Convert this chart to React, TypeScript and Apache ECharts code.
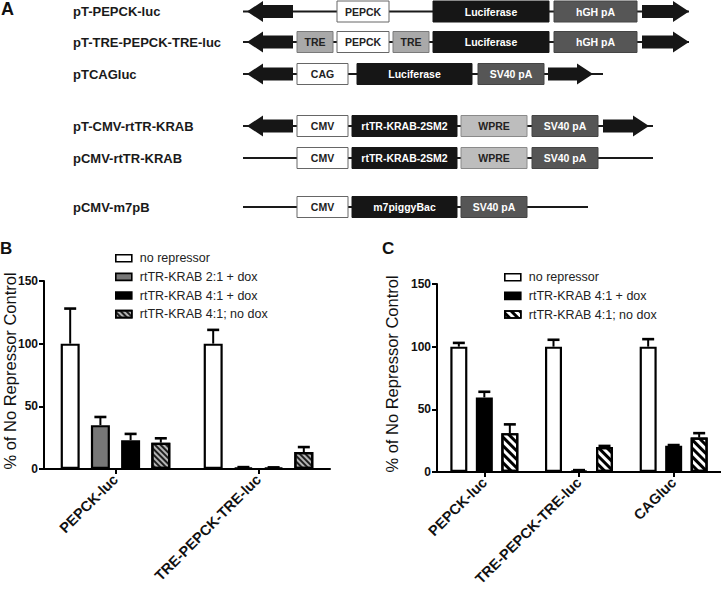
import React, { useEffect, useRef } from "react";
import * as echarts from "echarts";

const FONT = '"Liberation Sans", Arial, Helvetica, sans-serif';

// ---------- Panel B data ----------
const catsB = ["PEPCK-luc", "TRE-PEPCK-TRE-luc"];
const namesB = ["no repressor", "rtTR-KRAB 2:1 + dox", "rtTR-KRAB 4:1 + dox", "rtTR-KRAB 4:1; no dox"];
const noRepB = [100, 100];
const noRepBErr = [28, 11];
const krab21DoxB = [35, 1.2];
const krab21DoxBErr = [6.5, 0.3];
const krab41DoxB = [23, 1.0];
const krab41DoxBErr = [5, 0.3];
const krab41NoDoxB = [21, 13.5];
const krab41NoDoxBErr = [3.5, 4];

// ---------- Panel C data ----------
const catsC = ["PEPCK-luc", "TRE-PEPCK-TRE-luc", "CAGluc"];
const namesC = ["no repressor", "rtTR-KRAB 4:1 + dox", "rtTR-KRAB 4:1; no dox"];
const noRepC = [100, 100, 100];
const noRepCErr = [3, 5.5, 6];
const krab41DoxC = [59.5, 1.2, 21];
const krab41DoxCErr = [4.5, 0.3, 0.5];
const krab41NoDoxC = [31, 20, 27.5];
const krab41NoDoxCErr = [7, 0.8, 3.5];

// y axis ticks
const yMin = 0;
const yMax = 150;
const yStep = 50;

const yTitle = "% of No Repressor Control";

// ---------- Panel A schematic ----------
type BoxKind = "white" | "black" | "dark" | "light" | "wpre";
type Box = { x0: number; x1: number; label: string; kind: BoxKind };
type Construct = {
  name: string;
  cy: number;
  lineX0: number;
  lineX1: number;
  leftArrow?: [number, number];
  rightArrow?: [number, number];
  boxes: Box[];
};

const constructs: Construct[] = [
  {
    name: "pT-PEPCK-luc",
    cy: 11.5,
    lineX0: 243,
    lineX1: 689,
    leftArrow: [247, 293],
    rightArrow: [642, 689],
    boxes: [
      { x0: 337, x1: 389, label: "PEPCK", kind: "white" },
      { x0: 433, x1: 549, label: "Luciferase", kind: "black" },
      { x0: 554, x1: 637, label: "hGH pA", kind: "dark" },
    ],
  },
  {
    name: "pT-TRE-PEPCK-TRE-luc",
    cy: 42,
    lineX0: 243,
    lineX1: 689,
    leftArrow: [247, 293],
    rightArrow: [642, 689],
    boxes: [
      { x0: 297, x1: 333, label: "TRE", kind: "light" },
      { x0: 337, x1: 389, label: "PEPCK", kind: "white" },
      { x0: 393, x1: 429, label: "TRE", kind: "light" },
      { x0: 433, x1: 549, label: "Luciferase", kind: "black" },
      { x0: 554, x1: 637, label: "hGH pA", kind: "dark" },
    ],
  },
  {
    name: "pTCAGluc",
    cy: 74,
    lineX0: 243,
    lineX1: 603,
    leftArrow: [247, 293],
    rightArrow: [548, 593],
    boxes: [
      { x0: 297, x1: 348, label: "CAG", kind: "white" },
      { x0: 357, x1: 472, label: "Luciferase", kind: "black" },
      { x0: 478, x1: 544, label: "SV40 pA", kind: "dark" },
    ],
  },
  {
    name: "pT-CMV-rtTR-KRAB",
    cy: 126,
    lineX0: 243,
    lineX1: 653,
    leftArrow: [247, 293],
    rightArrow: [603, 649],
    boxes: [
      { x0: 297, x1: 348, label: "CMV", kind: "white" },
      { x0: 352, x1: 457, label: "rtTR-KRAB-2SM2", kind: "black" },
      { x0: 461, x1: 527, label: "WPRE", kind: "wpre" },
      { x0: 532, x1: 598, label: "SV40 pA", kind: "dark" },
    ],
  },
  {
    name: "pCMV-rtTR-KRAB",
    cy: 158,
    lineX0: 243,
    lineX1: 653,
    boxes: [
      { x0: 297, x1: 348, label: "CMV", kind: "white" },
      { x0: 352, x1: 457, label: "rtTR-KRAB-2SM2", kind: "black" },
      { x0: 461, x1: 527, label: "WPRE", kind: "wpre" },
      { x0: 532, x1: 598, label: "SV40 pA", kind: "dark" },
    ],
  },
  {
    name: "pCMV-m7pB",
    cy: 207,
    lineX0: 243,
    lineX1: 588,
    boxes: [
      { x0: 297, x1: 348, label: "CMV", kind: "white" },
      { x0: 352, x1: 457, label: "m7piggyBac", kind: "black" },
      { x0: 461, x1: 527, label: "SV40 pA", kind: "dark" },
    ],
  },
];

const boxStyles: Record<BoxKind, { fill: string; stroke: string; text: string }> = {
  white: { fill: "#ffffff", stroke: "#666666", text: "#222222" },
  black: { fill: "#161616", stroke: "#161616", text: "#ffffff" },
  dark: { fill: "#565656", stroke: "#444444", text: "#ffffff" },
  light: { fill: "#a9a9a9", stroke: "#7a7a7a", text: "#222222" },
  wpre: { fill: "#bdbdbd", stroke: "#8a8a8a", text: "#222222" },
};

function buildSchematic(): any[] {
  const els: any[] = [];
  const headLen = 16;
  const headHalf = 10.5;
  const bodyHalf = 6.5;
  const boxH = 21;
  constructs.forEach((c) => {
    const cy = c.cy;
    els.push({
      type: "text",
      x: 73,
      y: cy,
      style: {
        text: c.name,
        fontSize: 13,
        fontWeight: "bold",
        fontFamily: FONT,
        fill: "#1a1a1a",
        align: "left",
        verticalAlign: "middle",
      },
    });
    els.push({
      type: "line",
      shape: { x1: c.lineX0, y1: cy, x2: c.lineX1, y2: cy },
      style: { stroke: "#1a1a1a", lineWidth: 2 },
    });
    if (c.leftArrow) {
      const [a, b] = c.leftArrow;
      els.push({
        type: "polygon",
        shape: {
          points: [
            [a, cy],
            [a + headLen, cy - headHalf],
            [a + headLen, cy - bodyHalf],
            [b, cy - bodyHalf],
            [b, cy + bodyHalf],
            [a + headLen, cy + bodyHalf],
            [a + headLen, cy + headHalf],
          ],
        },
        style: { fill: "#161616" },
      });
    }
    if (c.rightArrow) {
      const [a, b] = c.rightArrow;
      els.push({
        type: "polygon",
        shape: {
          points: [
            [b, cy],
            [b - headLen, cy - headHalf],
            [b - headLen, cy - bodyHalf],
            [a, cy - bodyHalf],
            [a, cy + bodyHalf],
            [b - headLen, cy + bodyHalf],
            [b - headLen, cy + headHalf],
          ],
        },
        style: { fill: "#161616" },
      });
    }
    c.boxes.forEach((bx) => {
      const st = boxStyles[bx.kind];
      els.push({
        type: "rect",
        shape: { x: bx.x0, y: cy - boxH / 2, width: bx.x1 - bx.x0, height: boxH },
        style: { fill: st.fill, stroke: st.stroke, lineWidth: 1 },
      });
      els.push({
        type: "text",
        x: (bx.x0 + bx.x1) / 2,
        y: cy,
        style: {
          text: bx.label,
          fontSize: 10.5,
          fontWeight: "bold",
          fontFamily: FONT,
          fill: st.text,
          align: "center",
          verticalAlign: "middle",
        },
      });
    });
  });
  return els;
}

// ---------- styles ----------
const styleNoRep = { color: "#ffffff", borderColor: "#000", borderWidth: 2.2 };
const style21 = { color: "#777777", borderColor: "#000", borderWidth: 2.2 };
const style41 = { color: "#000000", borderColor: "#000", borderWidth: 2.2 };
const decalB = {
  symbol: "rect",
  symbolSize: 1,
  dashArrayX: [1, 0],
  dashArrayY: [1.3, 1.3],
  rotation: Math.PI / 4,
  color: "#1e1e1e",
};
const styleNoDoxB = { color: "#b4b4b4", borderColor: "#000", borderWidth: 2.2, decal: decalB };
const decalC = {
  symbol: "rect",
  symbolSize: 1,
  dashArrayX: [1, 0],
  dashArrayY: [2.8, 2.8],
  rotation: Math.PI / 4,
  color: "#000000",
};
const styleNoDoxC = { color: "#ffffff", borderColor: "#000", borderWidth: 2.2, decal: decalC };

const BW_B = 19;
const GAP_B = 0.59;
const BW_C = 17;
const GAP_C = 0.5;

function barSeries(name: string, values: number[], axis: number, style: any, bw: number, gap: number) {
  return {
    type: "bar",
    name,
    xAxisIndex: axis,
    yAxisIndex: axis,
    data: values,
    barWidth: bw,
    barGap: Math.round(gap * 100) + "%",
    itemStyle: style,
    silent: true,
    z: 2,
  };
}

function errSeries(values: number[], errs: number[], axis: number, slot: number, nSlots: number, spacing: number) {
  return {
    type: "custom",
    xAxisIndex: axis,
    yAxisIndex: axis,
    data: values.map((v, i) => [i, v, v + errs[i]]),
    encode: { x: 0, y: [1, 2] },
    silent: true,
    z: 4,
    renderItem: (params: any, api: any) => {
      const base = api.coord([api.value(0), api.value(1)]);
      const top = api.coord([api.value(0), api.value(2)]);
      const off = (slot - (nSlots - 1) / 2) * spacing;
      const x = base[0] + off;
      return {
        type: "group",
        children: [
          {
            type: "line",
            shape: { x1: x, y1: base[1], x2: x, y2: top[1] },
            style: { stroke: "#000", lineWidth: 2 },
          },
          {
            type: "line",
            shape: { x1: x - 6, y1: top[1], x2: x + 6, y2: top[1] },
            style: { stroke: "#000", lineWidth: 2.6 },
          },
        ],
      };
    },
  };
}

function xAxisCfg(grid: number, data: string[]) {
  return {
    gridIndex: grid,
    type: "category",
    data,
    axisLine: { show: true, lineStyle: { color: "#000", width: 2 } },
    axisTick: { show: true, alignWithLabel: true, length: 5, lineStyle: { color: "#000", width: 2 } },
    axisLabel: {
      rotate: 45,
      interval: 0,
      margin: 8,
      fontSize: 14.5,
      fontWeight: "bold",
      color: "#111",
      fontFamily: FONT,
    },
    splitLine: { show: false },
  };
}

function yAxisCfg(grid: number) {
  return {
    gridIndex: grid,
    type: "value",
    min: yMin,
    max: yMax,
    interval: yStep,
    axisLine: { show: true, lineStyle: { color: "#000", width: 2 } },
    axisTick: { show: true, length: 5, lineStyle: { color: "#000", width: 2 } },
    axisLabel: { margin: 6, fontSize: 12, fontWeight: "bold", color: "#111", fontFamily: FONT },
    splitLine: { show: false },
  };
}

function legendCfg(left: number, top: number, items: { name: string; style: any }[]) {
  return {
    left,
    top,
    orient: "vertical",
    padding: 0,
    itemGap: 0,
    itemWidth: 16,
    itemHeight: 7,
    selectedMode: false,
    icon: "rect",
    textStyle: { fontSize: 12.5, lineHeight: 18.6, color: "#222", fontFamily: FONT, padding: [0, 0, 0, 3] },
    data: items.map((it) => ({
      name: it.name,
      icon: "rect",
      itemStyle: { ...it.style, borderWidth: 1.6 },
    })),
  };
}

export default function App() {
  const ref = useRef<HTMLDivElement>(null);
  useEffect(() => {
    if (!ref.current) return;
    const chart = echarts.init(ref.current, undefined, { renderer: "svg" });
    const spB = BW_B * (1 + GAP_B);
    const spC = BW_C * (1 + GAP_C);
    const option: any = {
      animation: false,
      backgroundColor: "#ffffff",
      textStyle: { fontFamily: FONT },
      grid: [
        { left: 44, top: 281, width: 286, height: 188 },
        { left: 437, top: 284, width: 284, height: 188 },
      ],
      xAxis: [xAxisCfg(0, catsB), xAxisCfg(1, catsC)],
      yAxis: [yAxisCfg(0), yAxisCfg(1)],
      legend: [
        legendCfg(115, 249, [
          { name: namesB[0], style: styleNoRep },
          { name: namesB[1], style: style21 },
          { name: namesB[2], style: style41 },
          { name: namesB[3], style: styleNoDoxB },
        ]),
        legendCfg(504, 268, [
          { name: namesC[0], style: styleNoRep },
          { name: namesC[1], style: style41 },
          { name: namesC[2], style: styleNoDoxC },
        ]),
      ],
      series: [
        barSeries(namesB[0], noRepB, 0, styleNoRep, BW_B, GAP_B),
        barSeries(namesB[1], krab21DoxB, 0, style21, BW_B, GAP_B),
        barSeries(namesB[2], krab41DoxB, 0, style41, BW_B, GAP_B),
        barSeries(namesB[3], krab41NoDoxB, 0, styleNoDoxB, BW_B, GAP_B),
        errSeries(noRepB, noRepBErr, 0, 0, 4, spB),
        errSeries(krab21DoxB, krab21DoxBErr, 0, 1, 4, spB),
        errSeries(krab41DoxB, krab41DoxBErr, 0, 2, 4, spB),
        errSeries(krab41NoDoxB, krab41NoDoxBErr, 0, 3, 4, spB),
        barSeries(namesC[0], noRepC, 1, styleNoRep, BW_C, GAP_C),
        barSeries(namesC[1], krab41DoxC, 1, style41, BW_C, GAP_C),
        barSeries(namesC[2], krab41NoDoxC, 1, styleNoDoxC, BW_C, GAP_C),
        errSeries(noRepC, noRepCErr, 1, 0, 3, spC),
        errSeries(krab41DoxC, krab41DoxCErr, 1, 1, 3, spC),
        errSeries(krab41NoDoxC, krab41NoDoxCErr, 1, 2, 3, spC),
      ],
      graphic: [
        {
          type: "text",
          x: 1,
          y: 9,
          style: { text: "A", fontSize: 18, fontWeight: "bold", fontFamily: FONT, fill: "#111", align: "left", verticalAlign: "middle" },
        },
        {
          type: "text",
          x: 0,
          y: 248,
          style: { text: "B", fontSize: 17, fontWeight: "bold", fontFamily: FONT, fill: "#111", align: "left", verticalAlign: "middle" },
        },
        {
          type: "text",
          x: 382,
          y: 248,
          style: { text: "C", fontSize: 17, fontWeight: "bold", fontFamily: FONT, fill: "#111", align: "left", verticalAlign: "middle" },
        },
        {
          type: "text",
          x: 10,
          y: 371,
          rotation: Math.PI / 2,
          style: { text: yTitle, fontSize: 16.5, fontFamily: FONT, fill: "#111", align: "center", verticalAlign: "middle" },
        },
        {
          type: "text",
          x: 392,
          y: 374,
          rotation: Math.PI / 2,
          style: { text: yTitle, fontSize: 16.5, fontFamily: FONT, fill: "#111", align: "center", verticalAlign: "middle" },
        },
        ...buildSchematic(),
      ],
    };
    chart.setOption(option);
    return () => {
      chart.dispose();
    };
  }, []);
  return (
    <div
      ref={ref}
      style={{ position: "absolute", left: 0, top: 0, width: 721, height: 590 }}
    />
  );
}
